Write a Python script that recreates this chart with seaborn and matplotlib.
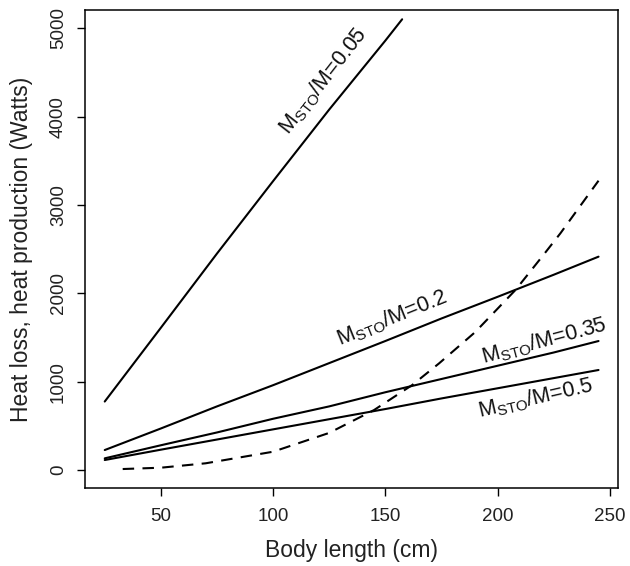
import numpy as np
import pandas as pd
import matplotlib
matplotlib.use("Agg")
import matplotlib.pyplot as plt
import seaborn as sns

# Heat production for several storage-mass fractions (solid) and heat loss (dashed)
length_solid = [25, 50, 75, 100, 125, 150, 175, 200, 225, 245]
prod_005_len = [25, 50, 75, 100, 125, 150, 157.5]
prod_005 = [775, 1610, 2450, 3270, 4080, 4860, 5102]
prod_020 = [226, 470, 720, 960, 1210, 1460, 1715, 1960, 2210, 2415]
prod_035 = [132, 280, 425, 580, 720, 880, 1030, 1180, 1330, 1460]
prod_050 = [113, 230, 345, 460, 575, 690, 810, 925, 1040, 1132]
loss_len = [33, 50, 70, 100, 125, 145, 162, 174, 190, 208, 220, 228, 245]
heat_loss = [11, 26, 76, 207, 420, 679, 962, 1208, 1560, 2038, 2420, 2679, 3275]

curve_labels = ["0.05", "0.2", "0.35", "0.5"]
x_ticks = [50, 100, 150, 200, 250]
y_ticks = [0, 1000, 2000, 3000, 4000, 5000]

frames = [
    pd.DataFrame({"length": prod_005_len, "watts": prod_005, "curve": "0.05"}),
    pd.DataFrame({"length": length_solid, "watts": prod_020, "curve": "0.2"}),
    pd.DataFrame({"length": length_solid, "watts": prod_035, "curve": "0.35"}),
    pd.DataFrame({"length": length_solid, "watts": prod_050, "curve": "0.5"}),
]
production = pd.concat(frames, ignore_index=True)
loss = pd.DataFrame({"length": loss_len, "watts": heat_loss})

sns.set_theme(style="ticks")
plt.rcParams["font.family"] = ["Liberation Sans", "DejaVu Sans"]
plt.rcParams["mathtext.fontset"] = "custom"
plt.rcParams["mathtext.rm"] = "Liberation Sans"
plt.rcParams["mathtext.it"] = "Liberation Sans:italic"

fig = plt.figure(figsize=(6.3, 5.66), dpi=100)
ax = fig.add_axes([0.1349, 0.1373, 0.9814 - 0.1349, 0.9823 - 0.1373])

sns.lineplot(data=production, x="length", y="watts", units="curve",
             estimator=None, color="black", linewidth=1.5, ax=ax,
             sort=False)
sns.lineplot(data=loss, x="length", y="watts", color="black",
             linewidth=1.5, ax=ax, sort=False)
ax.lines[-1].set_dashes((5.5, 4))

ax.set_xlim(16.2, 253.8)
ax.set_ylim(-207, 5207)
ax.set_xticks(x_ticks)
ax.set_yticks(y_ticks)
ax.tick_params(axis="both", labelsize=13.5, length=6, width=1.0,
               color="black", labelcolor="#222222")
ax.tick_params(axis="x", pad=8)
ax.tick_params(axis="y", pad=7)
for lab in ax.get_yticklabels():
    lab.set_rotation(90)
    lab.set_va("center")
for sp in ax.spines.values():
    sp.set_visible(True)
    sp.set_linewidth(1.1)
    sp.set_color("black")

ax.set_xlabel("Body length (cm)", fontsize=16.5, color="#222222", labelpad=10)
ax.set_ylabel("Heat loss, heat production (Watts)", fontsize=16.5,
              color="#222222", labelpad=12)

label_pos = {
    "0.05": (122.6, 4410, 52),
    "0.2": (152.9, 1720, 22),
    "0.35": (221.0, 1460, 15),
    "0.5": (217.0, 815, 13),
}
for key in curve_labels:
    lx, ly, rot = label_pos[key]
    ax.text(lx, ly, r"M$_{\mathrm{STO}}$/M=" + key, fontsize=15.5,
            rotation=rot, rotation_mode="anchor", ha="center", va="center",
            color="#111111")

fig.savefig("out.png", dpi=100)
